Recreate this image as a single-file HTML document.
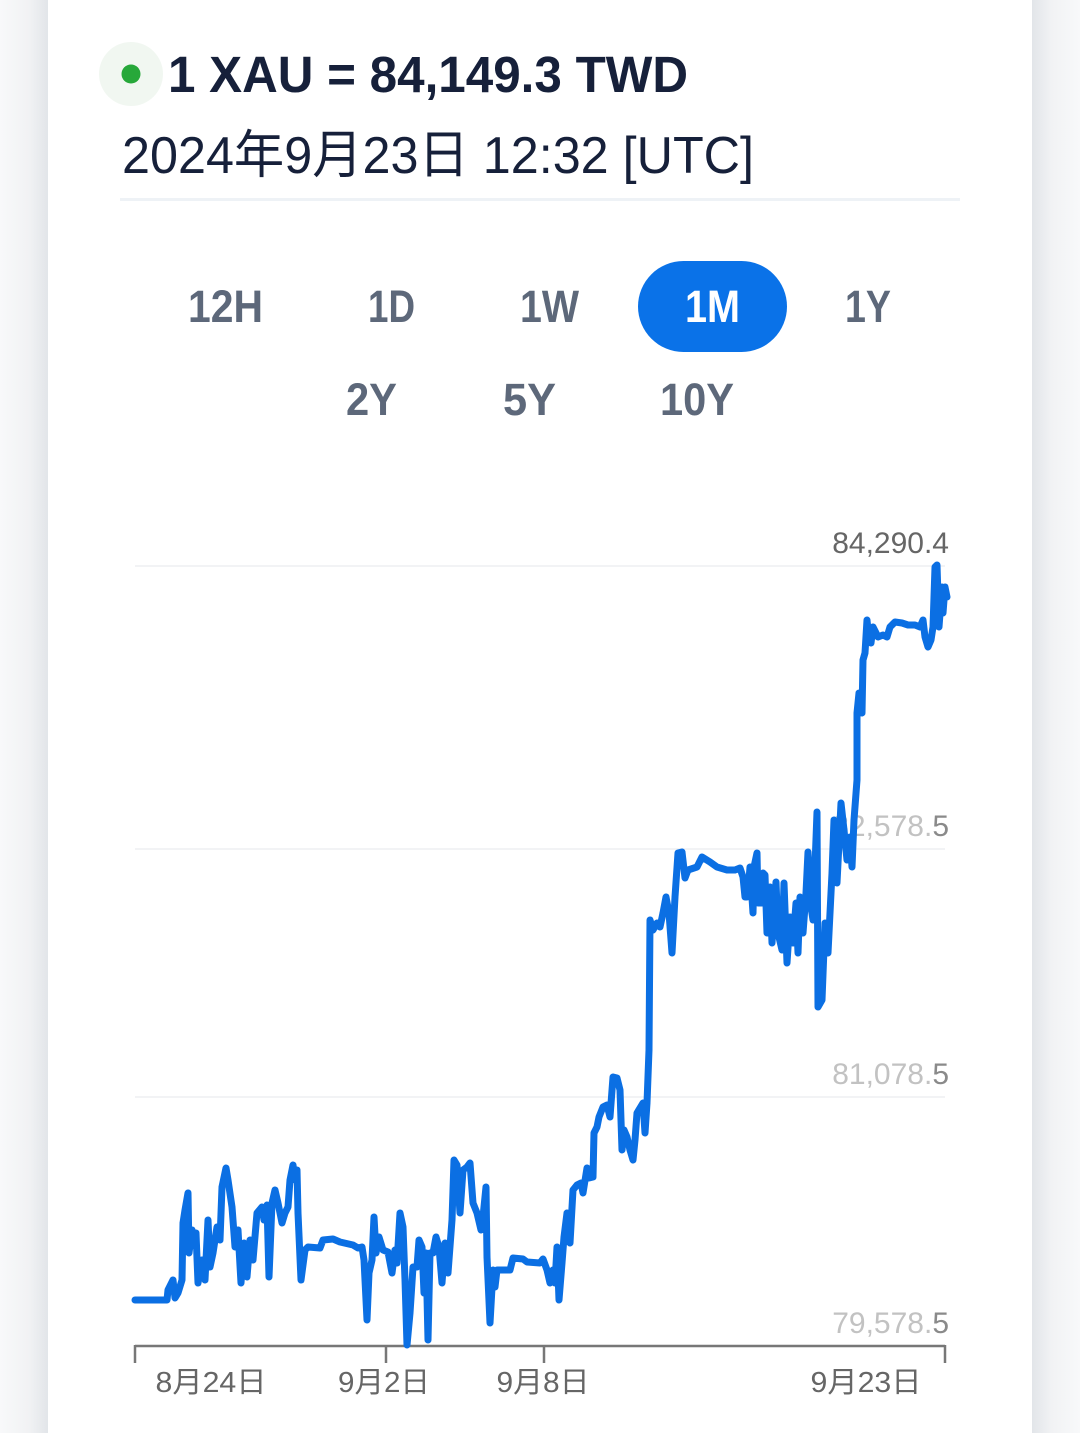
<!DOCTYPE html>
<html><head><meta charset="utf-8"><style>
html,body{margin:0;padding:0;width:1080px;height:1433px;overflow:hidden;background:#fff}
svg{display:block}
text{font-family:"Liberation Sans","Noto Sans CJK TC",sans-serif}
</style></head><body>
<svg width="1080" height="1433" viewBox="0 0 1080 1433" xmlns="http://www.w3.org/2000/svg">
<defs>
<linearGradient id="gl" x1="0" x2="1" y1="0" y2="0"><stop offset="0" stop-color="#f8f9fa"/><stop offset="0.6" stop-color="#f1f2f4"/><stop offset="1" stop-color="#e2e5e9"/></linearGradient>
<linearGradient id="gr" x1="0" x2="1" y1="0" y2="0"><stop offset="0" stop-color="#e2e5e9"/><stop offset="0.4" stop-color="#f1f2f4"/><stop offset="1" stop-color="#f8f9fa"/></linearGradient>
</defs>
<rect x="0" y="0" width="48" height="1433" fill="url(#gl)"/>
<rect x="1032" y="0" width="48" height="1433" fill="url(#gr)"/>
<rect x="48" y="0" width="984" height="1433" fill="#ffffff"/>

<!-- header -->
<circle cx="131" cy="74" r="32" fill="#f1f7f1"/>
<circle cx="131" cy="74" r="9.5" fill="#27a83a"/>
<text x="168" y="92" font-size="51" font-weight="bold" fill="#16203a" textLength="520" lengthAdjust="spacingAndGlyphs">1 XAU = 84,149.3 TWD</text>
<text x="122" y="173" font-size="52" fill="#16203a" textLength="632" lengthAdjust="spacingAndGlyphs">2024年9月23日 12:32 [UTC]</text>
<rect x="120" y="198" width="840" height="3" fill="#eef2f6"/>

<!-- period buttons -->
<rect x="638" y="261" width="149" height="91" rx="45.5" fill="#0a72e8"/>
<g font-size="45" font-weight="bold" fill="#5d687a" text-anchor="middle">
<text x="225.5" y="322" textLength="75" lengthAdjust="spacingAndGlyphs">12H</text>
<text x="391.5" y="322" textLength="47" lengthAdjust="spacingAndGlyphs">1D</text>
<text x="549.5" y="322" textLength="59" lengthAdjust="spacingAndGlyphs">1W</text>
<text x="712.5" y="322" textLength="55" lengthAdjust="spacingAndGlyphs" fill="#ffffff">1M</text>
<text x="868" y="322" textLength="46" lengthAdjust="spacingAndGlyphs">1Y</text>
<text x="371.5" y="415" textLength="51" lengthAdjust="spacingAndGlyphs">2Y</text>
<text x="529.5" y="415" textLength="53" lengthAdjust="spacingAndGlyphs">5Y</text>
<text x="697" y="415" textLength="74" lengthAdjust="spacingAndGlyphs">10Y</text>
</g>

<!-- grid -->
<g fill="#f2f3f5">
<rect x="135" y="565" width="810" height="2"/>
<rect x="135" y="848" width="810" height="2"/>
<rect x="135" y="1096" width="810" height="2"/>
</g>
<g font-size="30" text-anchor="end">
<text x="949" y="553" fill="#666666">84,290.4</text>
<text x="949" y="836" fill="#c2c2c2">82,578.<tspan fill="#8a8a8a">5</tspan></text>
<text x="949" y="1084" fill="#c2c2c2">81,078.<tspan fill="#8a8a8a">5</tspan></text>
<text x="949" y="1333" fill="#c2c2c2">79,578.<tspan fill="#8a8a8a">5</tspan></text>
</g>

<!-- axis -->
<g stroke="#777777" stroke-width="2.5" fill="none">
<line x1="135" y1="1346" x2="945" y2="1346"/>
<line x1="135" y1="1345" x2="135" y2="1363"/>
<line x1="386" y1="1345" x2="386" y2="1363"/>
<line x1="544" y1="1345" x2="544" y2="1363"/>
<line x1="945" y1="1345" x2="945" y2="1363"/>
</g>
<g font-size="29" fill="#666666" text-anchor="middle">
<text x="211" y="1392" textLength="111" lengthAdjust="spacingAndGlyphs">8月24日</text>
<text x="384" y="1392" textLength="92" lengthAdjust="spacingAndGlyphs">9月2日</text>
<text x="543" y="1392" textLength="93" lengthAdjust="spacingAndGlyphs">9月8日</text>
<text x="866" y="1392" textLength="111" lengthAdjust="spacingAndGlyphs">9月23日</text>
</g>

<!-- series -->
<polyline fill="none" stroke="#0b6fe3" stroke-width="7" stroke-linejoin="round" stroke-linecap="round" points="135,1300 167,1300 168,1290 173,1280 175,1298 178,1293 182,1280 183,1223 185,1210 188,1193 189,1253 192,1230 194,1237 196,1233 198,1283 202,1260 205,1280 208,1220 210,1267 213,1253 217,1227 220,1240 222,1187 226,1168 228,1180 232,1207 235,1247 238,1230 241,1283 244,1243 247,1277 250,1240 253,1260 257,1213 262,1207 264,1220 267,1205 269,1277 272,1203 275,1190 278,1203 282,1223 285,1213 288,1207 290,1180 293,1165 295,1180 297,1170 298,1213 301,1280 305,1250 308,1247 320,1248 323,1240 333,1239 340,1242 353,1245 358,1248 362,1247 364,1260 367,1320 369,1273 372,1260 374,1217 376,1253 379,1237 383,1250 388,1252 392,1273 395,1250 397,1263 400,1213 403,1227 405,1280 407,1345 410,1313 413,1267 417,1267 419,1240 422,1247 424,1293 426,1253 428,1340 430,1253 433,1253 436,1237 439,1247 442,1283 445,1243 448,1273 452,1220 454,1160 457,1165 460,1213 463,1170 467,1167 470,1163 473,1203 477,1213 481,1230 483,1217 486,1187 487,1257 490,1323 493,1270 495,1287 497,1270 510,1270 513,1258 523,1259 527,1262 540,1263 543,1259 547,1270 550,1283 553,1270 555,1283 557,1247 559,1300 562,1263 564,1237 567,1213 570,1243 573,1190 577,1185 581,1183 583,1193 587,1168 589,1178 593,1177 594,1133 597,1127 599,1117 603,1107 607,1105 610,1117 613,1077 617,1078 620,1090 622,1150 624,1130 627,1137 630,1150 633,1160 635,1140 637,1113 640,1108 643,1103 645,1133 647,1103 649,1050 650,920 653,930 657,923 660,927 663,913 666,897 669,913 672,953 675,897 678,853 682,852 685,878 688,870 697,867 702,857 710,862 717,867 727,870 735,870 740,868 743,877 745,897 747,897 749,880 750,867 753,913 754,867 757,853 758,903 762,903 763,873 765,875 767,933 770,887 772,943 776,882 778,933 782,950 784,883 787,963 790,917 793,943 796,903 798,953 800,897 803,933 806,893 808,852 811,907 813,920 817,812 818,1007 822,1000 825,923 828,953 832,873 834,820 837,883 841,803 844,830 847,860 850,837 852,867 854,820 857,780 857,713 859,693 862,713 863,660 865,653 867,620 868,630 871,643 873,627 878,637 883,635 887,637 890,627 895,622 902,623 908,625 915,625 920,627 923,620 925,637 928,647 931,640 933,627 935,567 937,565 939,627 942,587 943,613 945,587 947,597"/>
</svg>
</body></html>
